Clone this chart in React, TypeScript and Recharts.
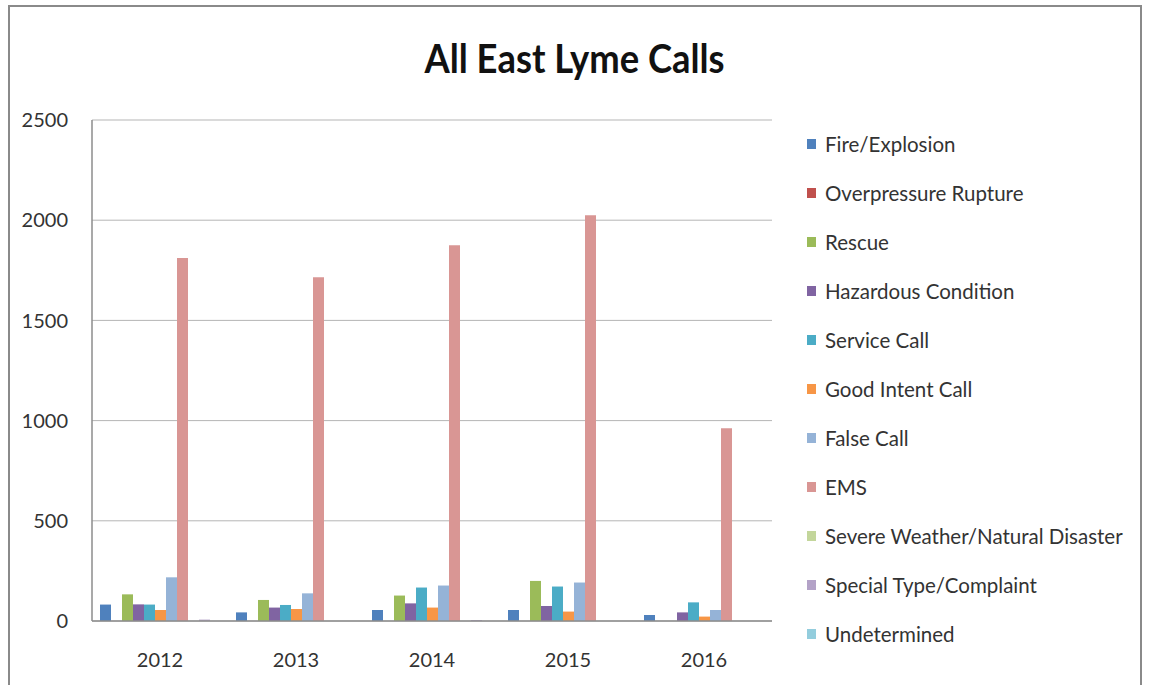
import { BarChart, Bar, XAxis, YAxis, CartesianGrid } from "recharts";

const years = ["2012", "2013", "2014", "2015", "2016"];

const fireExplosion = [82, 43, 55, 55, 30];
const overpressureRupture = [0, 0, 0, 0, 0];
const rescue = [133, 105, 127, 200, 0];
const hazardousCondition = [83, 67, 88, 75, 43];
const serviceCall = [82, 80, 167, 172, 93];
const goodIntentCall = [55, 60, 67, 47, 22];
const falseCall = [218, 138, 177, 192, 55];
const ems = [1812, 1715, 1875, 2025, 962];
const severeWeather = [0, 0, 0, 0, 0];
const specialType = [7, 0, 5, 0, 0];
const undetermined = [0, 0, 0, 0, 0];

const yTicks = [0, 500, 1000, 1500, 2000, 2500];

const series = [
  { key: "fire", name: "Fire/Explosion", values: fireExplosion, color: "#4F81BD" },
  { key: "overpressure", name: "Overpressure Rupture", values: overpressureRupture, color: "#C0504D" },
  { key: "rescue", name: "Rescue", values: rescue, color: "#9BBB59" },
  { key: "hazardous", name: "Hazardous Condition", values: hazardousCondition, color: "#8064A2" },
  { key: "service", name: "Service Call", values: serviceCall, color: "#4BACC6" },
  { key: "goodIntent", name: "Good Intent Call", values: goodIntentCall, color: "#F79646" },
  { key: "falseCall", name: "False Call", values: falseCall, color: "#95B3D7" },
  { key: "ems", name: "EMS", values: ems, color: "#D99694" },
  { key: "severe", name: "Severe Weather/Natural Disaster", values: severeWeather, color: "#C3D69B" },
  { key: "special", name: "Special Type/Complaint", values: specialType, color: "#B3A2C7" },
  { key: "undetermined", name: "Undetermined", values: undetermined, color: "#93CDDD" },
];

const data = years.map((year, i) => {
  const row: Record<string, string | number> = { year };
  series.forEach((s) => {
    row[s.key] = s.values[i];
  });
  return row;
});

const FONT = "Lato, 'Open Sans', sans-serif";

export default function App() {
  return (
    <div
      style={{
        position: "fixed",
        left: 0,
        top: 0,
        width: 1149,
        height: 685,
        overflow: "hidden",
        background: "#fff",
        fontFamily: FONT,
      }}
    >
      {/* chart frame */}
      <div
        style={{
          position: "absolute",
          left: 8,
          top: 5,
          width: 1134,
          height: 720,
          border: "2px solid #8a8a8a",
          boxSizing: "border-box",
        }}
      />
      <div
        style={{
          position: "absolute",
          left: 0,
          width: 1149,
          top: 34,
          textAlign: "center",
          fontSize: 40,
          fontWeight: 700,
          color: "#111",
          transform: "scaleX(0.91)",
        }}
      >
        All East Lyme Calls
      </div>

      <div style={{ position: "absolute", left: 0, top: 0 }}>
        <BarChart
          width={1149}
          height={685}
          data={data}
          margin={{ top: 120, right: 377, left: 0, bottom: 0 }}
          barCategoryGap={8}
          barGap={0}
        >
          <CartesianGrid vertical={false} stroke="#b5b5b5" strokeWidth={1} />
          <XAxis
            dataKey="year"
            height={64}
            tickLine={false}
            tickSize={0}
            tickMargin={32}
            axisLine={{ stroke: "#8c8c8c", strokeWidth: 1.5 }}
            tick={{ fill: "#333", fontSize: 20, fontFamily: FONT }}
          />
          <YAxis
            width={92}
            domain={[0, 2500]}
            ticks={yTicks}
            interval={0}
            tickLine={false}
            tickSize={0}
            tickMargin={24}
            axisLine={{ stroke: "#8c8c8c", strokeWidth: 1.5 }}
            tick={{ fill: "#333", fontSize: 20, fontFamily: FONT }}
          />
          {series.map((s) => (
            <Bar key={s.key} dataKey={s.key} name={s.name} fill={s.color} isAnimationActive={false} />
          ))}
        </BarChart>
      </div>

      {/* legend */}
      <div style={{ position: "absolute", left: 807, top: 119 }}>
        {series.map((s) => (
          <div
            key={s.key}
            style={{ display: "flex", alignItems: "center", height: 49, fontSize: 20.5, color: "#333" }}
          >
            <span
              style={{ display: "inline-block", width: 9, height: 10, background: s.color, marginRight: 9 }}
            />
            {s.name}
          </div>
        ))}
      </div>
    </div>
  );
}
